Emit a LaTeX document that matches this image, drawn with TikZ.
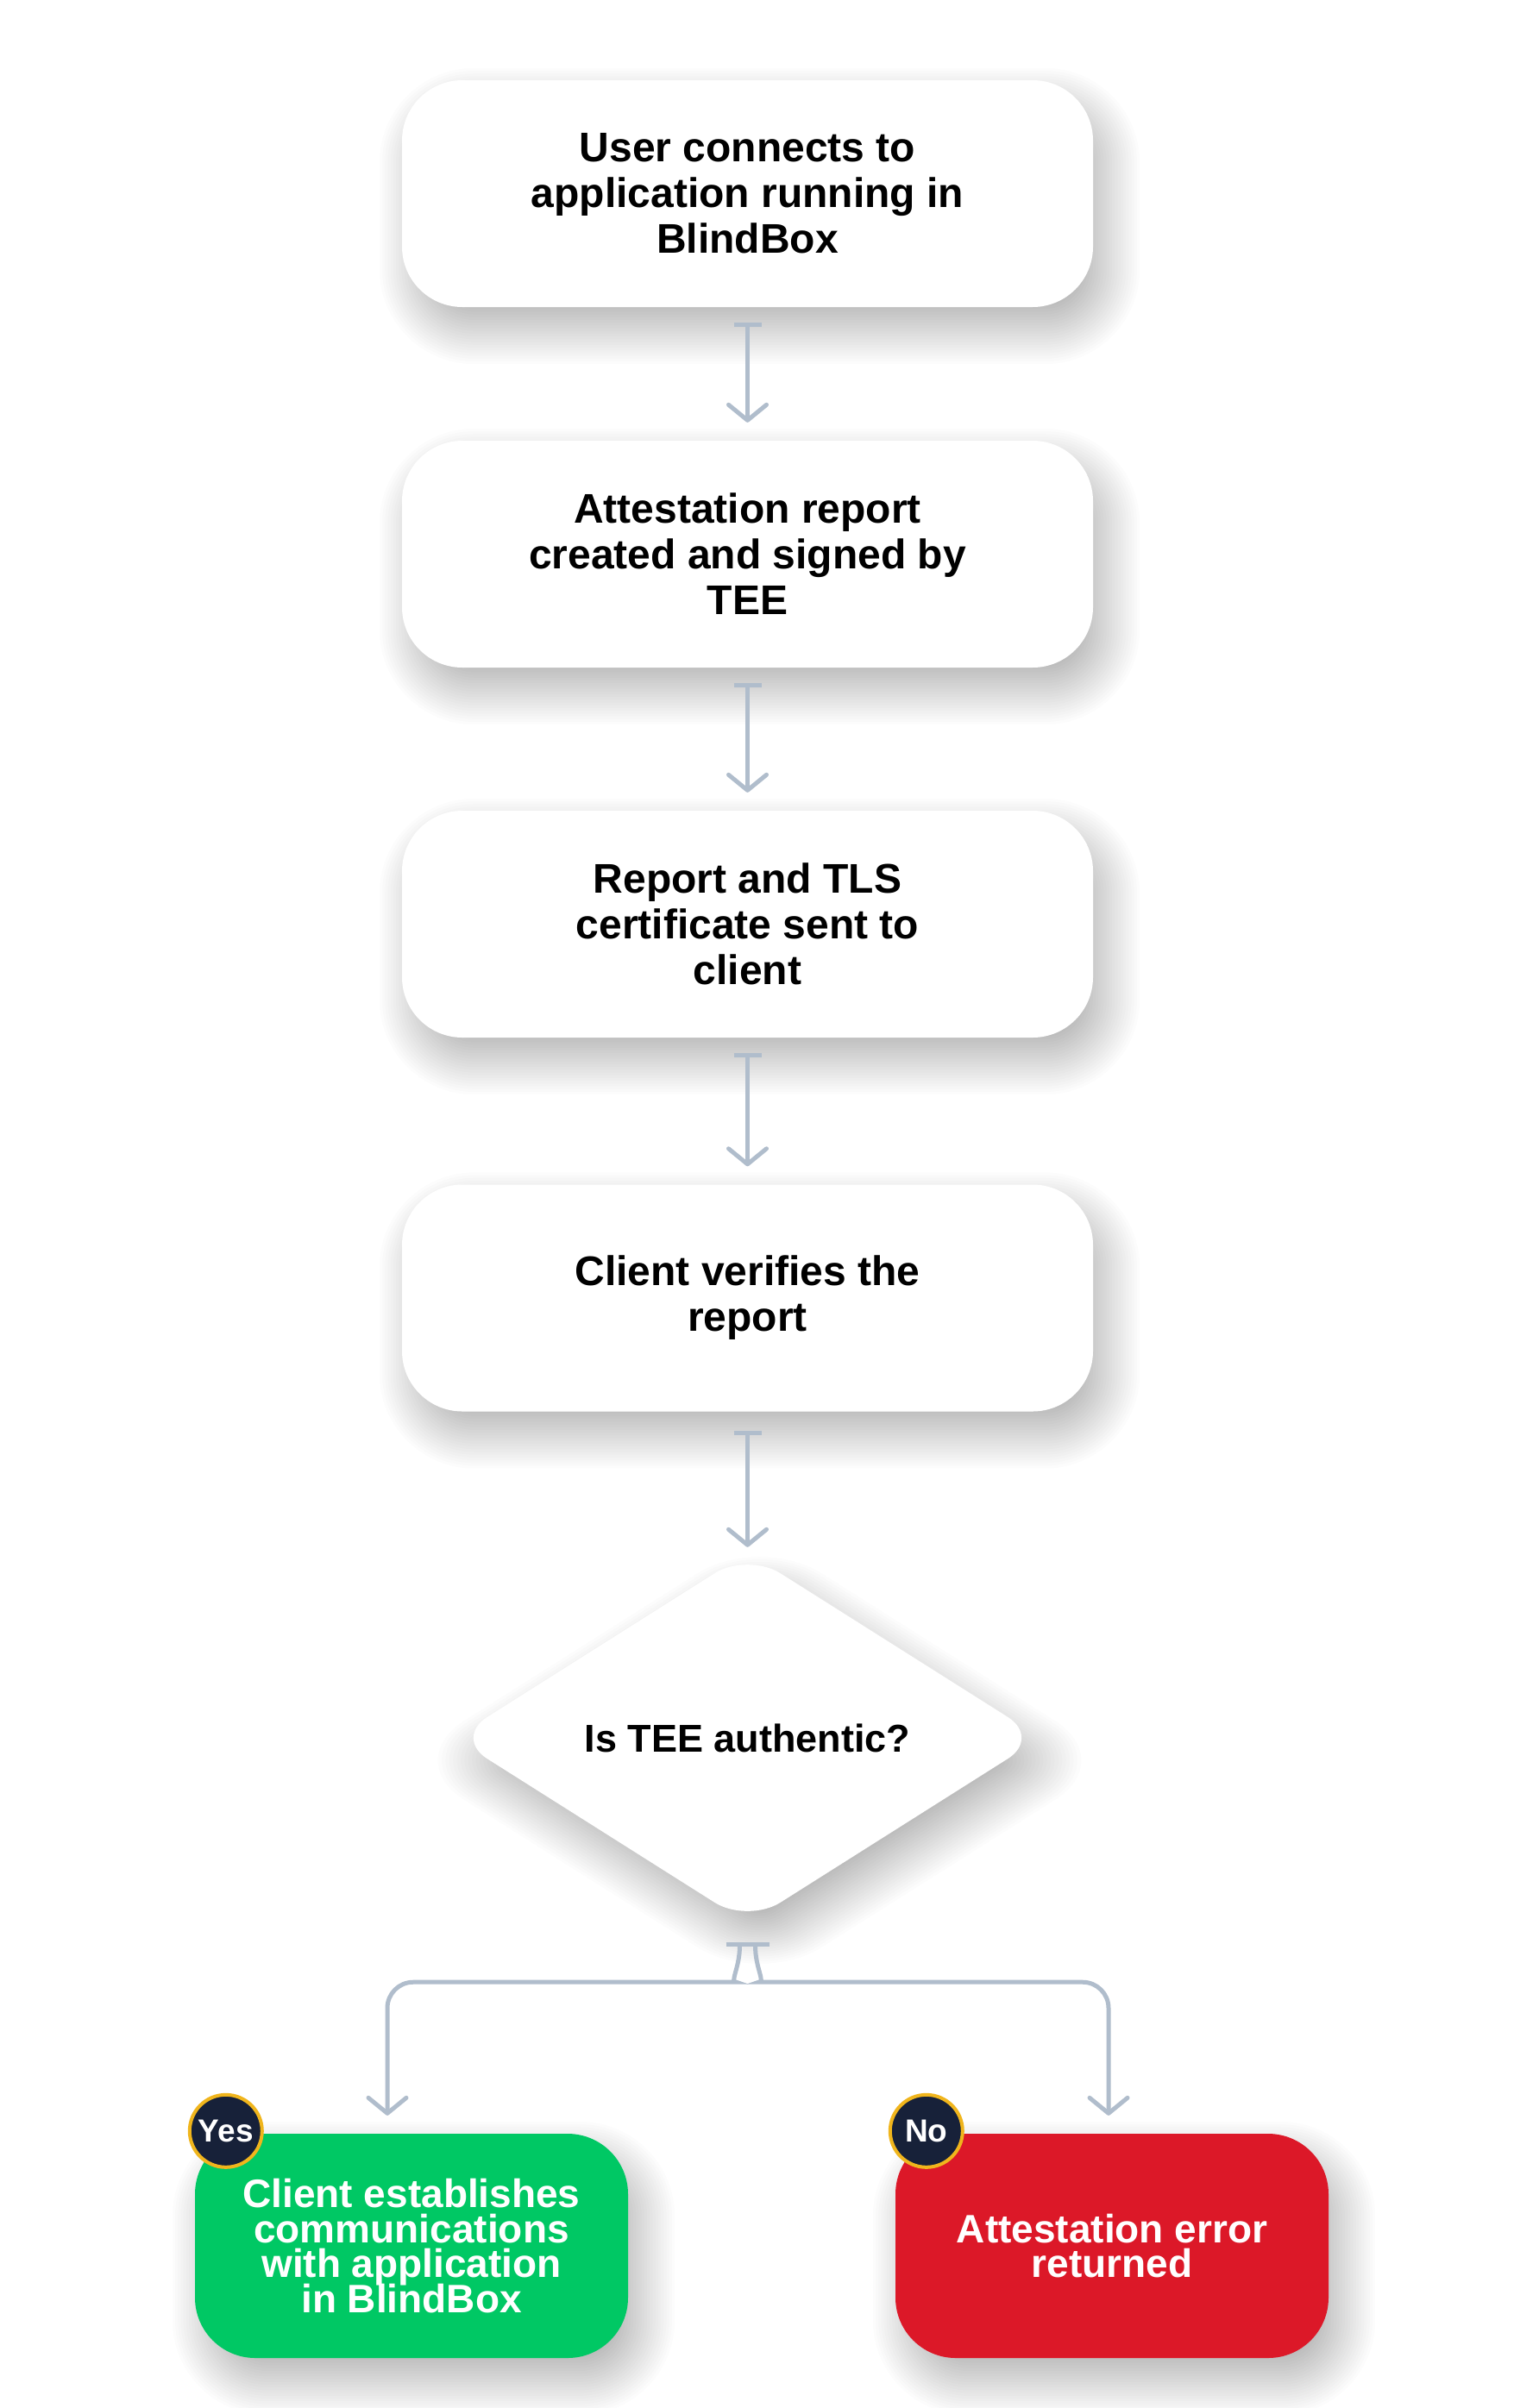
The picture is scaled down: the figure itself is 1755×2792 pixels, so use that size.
\documentclass[tikz,border=0pt]{standalone}
\usepackage{fontspec}
\setmainfont{Liberation Sans}
\usetikzlibrary{arrows.meta,shapes.geometric,calc,backgrounds}
\definecolor{arrowc}{HTML}{B0BDCC}
\definecolor{navy}{HTML}{172139}
\definecolor{gold}{HTML}{F0B51C}
\definecolor{greenc}{HTML}{00C864}
\definecolor{redc}{HTML}{DC1828}
\AtBeginDocument{\lineskiplimit=-60pt\relax}
\newcommand{\boxshadow}[2]{%
  \foreach \i in {0,...,24}{%
    \pgfmathsetmacro{\shE}{40-3.2*\i}%
    \pgfmathsetmacro{\shR}{max(8,#2+\shE)}%
    \fill[black, opacity=0.011, rounded corners=\shR pt]
      ($(#1.north west)+(14-\shE,26-\shE)$) rectangle ($(#1.south east)+(14+\shE,26+\shE)$);
  }}
\newcommand{\diashadow}[2]{%
  \foreach \i in {0,...,24}{%
    \pgfmathsetmacro{\shE}{40-3.2*\i}%
    \pgfmathsetmacro{\shR}{max(8,#2+\shE)}%
    \fill[black, opacity=0.011, rounded corners=\shR pt]
      ($(#1.north)+(14,26-1.18*\shE)$) -- ($(#1.east)+(14+1.87*\shE,26)$) --
      ($(#1.south)+(14,26+1.18*\shE)$) -- ($(#1.west)+(14-1.87*\shE,26)$) -- cycle;
  }}
\begin{document}
\begin{tikzpicture}[x=1pt,y=-1pt,
  card/.style={rectangle, rounded corners=70pt, fill=white, minimum width=801pt, minimum height=263pt,
    align=center, inner sep=0pt,
    font=\bfseries\fontsize{48}{53}\selectfont},
  decision/.style={diamond, rounded corners=45pt, fill=white, minimum width=680pt, minimum height=430pt,
    aspect=1.6, inner sep=0pt, align=center,
    font=\bfseries\fontsize{45}{53}\selectfont},
  result/.style={rectangle, rounded corners=70pt, minimum width=502pt, minimum height=260pt,
    align=center, inner sep=0pt, text=white,
    font=\bfseries\fontsize{46}{40.5}\selectfont},
  badge/.style={circle, fill=navy, draw=gold, line width=4pt, minimum size=84pt, inner sep=0pt,
    text=white, font=\bfseries\fontsize{37}{40}\selectfont},
  conn/.style={draw=arrowc, line width=5pt,
    {Bar[width=32pt]}-{Straight Barb[length=18pt,width=44pt,round]}},
]
\useasboundingbox (0,0) rectangle (1755,2792);

\node[card] (b1) at (866.5,224.5) {User connects to\\application running in\\BlindBox};
\node[card] (b2) at (866.5,642.5) {Attestation report\\created and signed by\\TEE};
\node[card] (b3) at (866.5,1071.5) {Report and TLS\\certificate sent to\\client};
\node[card] (b4) at (866.5,1505) {Client verifies the\\report};
\node[decision] (dia) at (866.5,2015) {Is TEE authentic?};
\node[result, fill=greenc] (yes) at (477,2604) {Client establishes\\communications\\with application\\in BlindBox};
\node[result, fill=redc] (no) at (1289,2604) {Attestation error\\returned};
\node[badge] (yb) at ($(yes.north west)+(36,-3)$) {Yes};
\node[badge] (nb) at ($(no.north west)+(36,-3)$) {No};

\begin{pgfonlayer}{background}
\fill[white] (0,0) rectangle (1755,2792);
\boxshadow{b1}{70}
\boxshadow{b2}{70}
\boxshadow{b3}{70}
\boxshadow{b4}{70}
\diashadow{dia}{45}
\boxshadow{yes}{70}
\boxshadow{no}{70}
\end{pgfonlayer}

\draw[conn, shorten <=18pt, shorten >=21pt] (b1) -- (b2);
\draw[conn, shorten <=18pt, shorten >=21pt] (b2) -- (b3);
\draw[conn, shorten <=18pt, shorten >=21pt] (b3) -- (b4);
\draw[conn, shorten <=22pt, shorten >=6pt] (b4) -- (dia);

\coordinate (sL) at ($(dia.south)+(-9,22)$);
\coordinate (sR) at ($(dia.south)+(9,22)$);
\draw[conn, rounded corners=30pt] (sL) .. controls +(0,30) and +(22,0) .. ($(sL)+(-34,46)$) -| ($(yes.north)+(-28,-21)$);
\draw[conn, rounded corners=30pt] (sR) .. controls +(0,30) and +(-22,0) .. ($(sR)+(34,46)$) -| ($(no.north)+(-4,-21)$);
\end{tikzpicture}
\end{document}
